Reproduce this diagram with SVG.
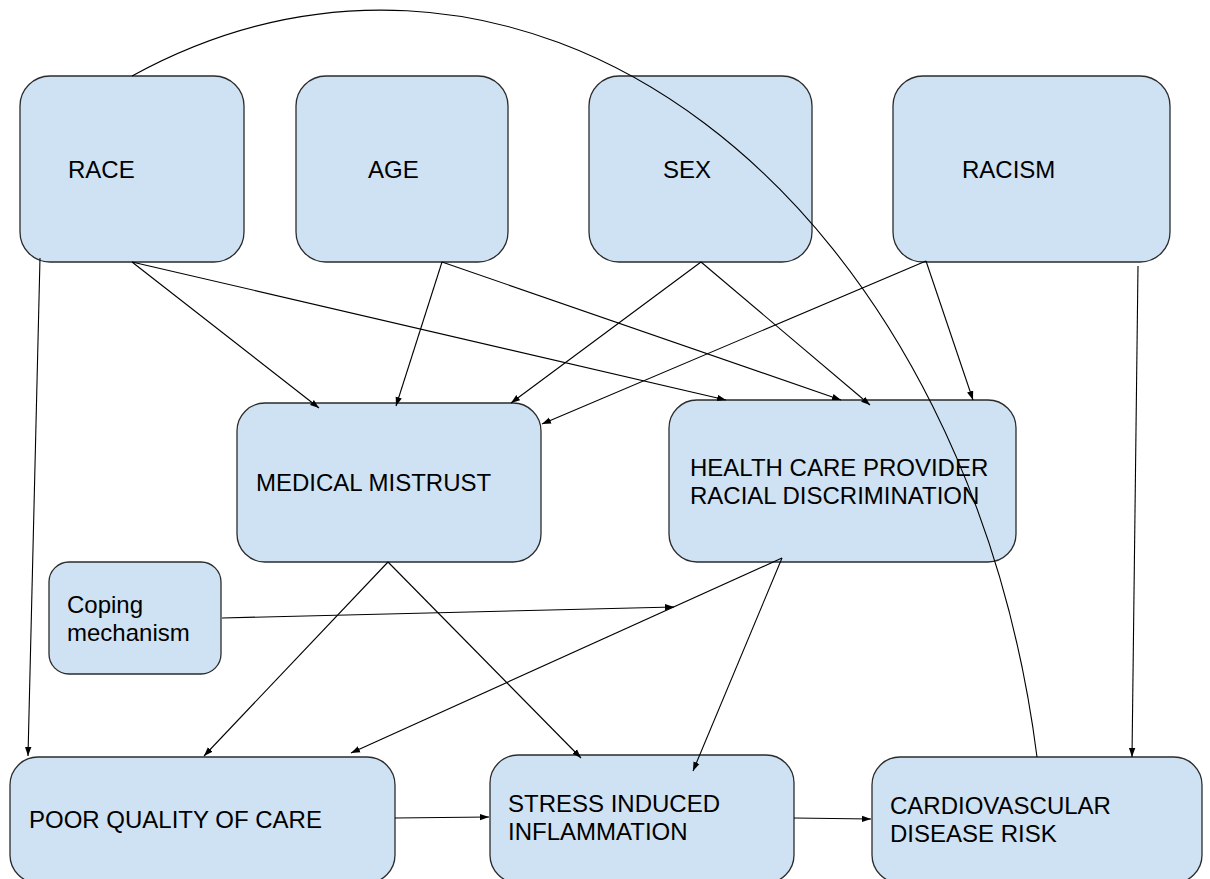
<svg xmlns="http://www.w3.org/2000/svg" width="1210" height="879" viewBox="0 0 1210 879">
<style>
.box{fill:#cfe2f3;stroke:#2b2b2b;stroke-width:1.3}
.lbl{font-family:"Liberation Sans",Arial,sans-serif;font-size:24px;fill:#000}
.con{fill:none;stroke:#000;stroke-width:1.1}
</style>
<defs>
<marker id="ah" markerUnits="userSpaceOnUse" markerWidth="10" markerHeight="8" refX="9" refY="4" orient="auto">
<path d="M0,0.8 L9,4 L0,7.2 Z" fill="#000"/>
</marker>
</defs>
<rect width="1210" height="879" fill="#fff"/>
<g id="race"><rect class="box" x="20" y="76" width="224" height="186" rx="30"/><text class="lbl" x="68" y="178">RACE</text></g>
<g id="age"><rect class="box" x="296" y="76" width="212" height="186" rx="30"/><text class="lbl" x="368" y="178">AGE</text></g>
<g id="sex"><rect class="box" x="589" y="76" width="223" height="186" rx="30"/><text class="lbl" x="663" y="178">SEX</text></g>
<g id="racism"><rect class="box" x="893" y="76" width="277" height="186" rx="30"/><text class="lbl" x="962" y="178">RACISM</text></g>
<g id="medical-mistrust"><rect class="box" x="237" y="403" width="304" height="159" rx="28"/><text class="lbl" x="256" y="491">MEDICAL MISTRUST</text></g>
<g id="hcp-discrimination"><rect class="box" x="669" y="400" width="347" height="162" rx="28"/><text class="lbl" x="690" y="476">HEALTH CARE PROVIDER</text><text class="lbl" x="690" y="504">RACIAL DISCRIMINATION</text></g>
<g id="coping"><rect class="box" x="49" y="562" width="172" height="112" rx="20"/><text class="lbl" x="67" y="613">Coping</text><text class="lbl" x="67" y="641">mechanism</text></g>
<g id="poor-care"><rect class="box" x="10" y="757" width="385" height="126" rx="28"/><text class="lbl" x="29" y="828">POOR QUALITY OF CARE</text></g>
<g id="stress"><rect class="box" x="490" y="755" width="304" height="128" rx="28"/><text class="lbl" x="508" y="812">STRESS INDUCED</text><text class="lbl" x="508" y="840">INFLAMMATION</text></g>
<g id="cvd"><rect class="box" x="872" y="757" width="330" height="126" rx="28"/><text class="lbl" x="890" y="814">CARDIOVASCULAR</text><text class="lbl" x="890" y="842">DISEASE RISK</text></g>
<g id="connectors">
<path class="con" d="M132,76 A 665 900 0 0 1 1037,757"/>
<line class="con" x1="40" y1="258" x2="28" y2="756" marker-end="url(#ah)"/>
<line class="con" x1="132" y1="262" x2="319" y2="408" marker-end="url(#ah)"/>
<line class="con" x1="132" y1="262" x2="726" y2="400" marker-end="url(#ah)"/>
<line class="con" x1="442" y1="262" x2="396" y2="406" marker-end="url(#ah)"/>
<line class="con" x1="442" y1="262" x2="841" y2="400" marker-end="url(#ah)"/>
<line class="con" x1="701" y1="262" x2="511" y2="403" marker-end="url(#ah)"/>
<line class="con" x1="701" y1="262" x2="870" y2="405" marker-end="url(#ah)"/>
<line class="con" x1="926" y1="261" x2="542" y2="424" marker-end="url(#ah)"/>
<line class="con" x1="926" y1="261" x2="973" y2="400" marker-end="url(#ah)"/>
<line class="con" x1="1138" y1="266" x2="1132" y2="757" marker-end="url(#ah)"/>
<line class="con" x1="388" y1="562" x2="204" y2="756" marker-end="url(#ah)"/>
<line class="con" x1="388" y1="562" x2="581" y2="758" marker-end="url(#ah)"/>
<line class="con" x1="782" y1="558" x2="351" y2="753" marker-end="url(#ah)"/>
<line class="con" x1="782" y1="558" x2="693" y2="771" marker-end="url(#ah)"/>
<line class="con" x1="222" y1="618" x2="674" y2="607" marker-end="url(#ah)"/>
<line class="con" x1="395" y1="818" x2="489" y2="817" marker-end="url(#ah)"/>
<line class="con" x1="794" y1="818" x2="871" y2="819" marker-end="url(#ah)"/>
</g>
</svg>
